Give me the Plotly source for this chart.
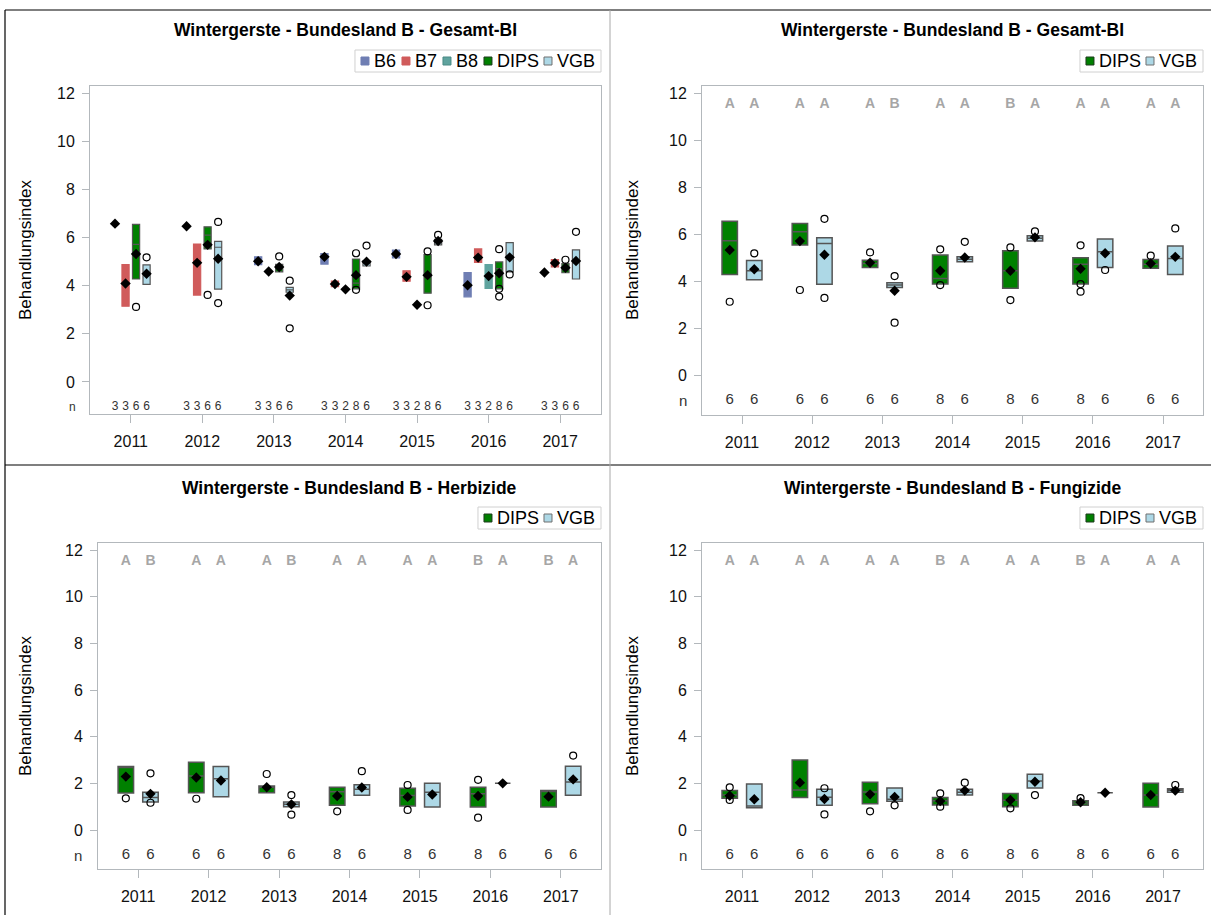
import plotly.graph_objects as go

W, H = 1211, 915

years = ['2011', '2012', '2013', '2014', '2015', '2016', '2017']

# Gesamt-BI, Betriebsgruppen (nur oben links); None = in dem Jahr nicht vorhanden
b6_q1 = [6.58, 6.47, 4.88, 4.90, 5.16, 3.54, 4.55]
b6_med = [6.58, 6.47, 5.00, 5.20, 5.32, 4.00, 4.55]
b6_q3 = [6.58, 6.47, 5.20, 5.34, 5.48, 4.55, 4.55]
b6_mean = [6.58, 6.47, 5.02, 5.20, 5.32, 4.02, 4.55]
b6_n = [3, 3, 3, 3, 3, 3, 3]

b7_q1 = [3.15, 3.61, 4.59, 3.96, 4.19, 4.97, 4.78]
b7_med = [4.10, 5.55, 4.59, 4.07, 4.37, 5.20, 4.94]
b7_q3 = [4.88, 5.73, 4.59, 4.19, 4.62, 5.53, 5.09]
b7_mean = [4.09, 4.95, 4.59, 4.07, 4.37, 5.17, 4.94]
b7_n = [3, 3, 3, 3, 3, 3, 3]

b8_q1 = [None, None, None, 3.85, 3.21, 3.89, None]
b8_med = [None, None, None, 3.85, 3.21, 4.40, None]
b8_q3 = [None, None, None, 3.85, 3.21, 4.88, None]
b8_mean = [None, None, None, 3.85, 3.21, 4.40, None]
b8_n = [None, None, None, 2, 2, 2, None]

# Gesamt-BI DIPS / VGB
ges_dips_q1 = [4.28, 5.53, 4.58, 3.87, 3.69, 3.87, 4.54]
ges_dips_med = [5.72, 6.10, 4.75, 4.11, 4.44, 4.71, 4.72]
ges_dips_q3 = [6.55, 6.45, 4.89, 5.11, 5.29, 4.99, 4.92]
ges_dips_mean = [5.32, 5.70, 4.78, 4.44, 4.44, 4.52, 4.75]
ges_dips_out = [[3.12], [3.62], [5.22], [5.35, 3.83], [5.43, 3.19], [5.52, 3.87, 3.55], [5.08]]
ges_dips_sig = ['A', 'A', 'A', 'A', 'B', 'A', 'A']

ges_vgb_q1 = [4.06, 3.86, 3.73, 4.82, 5.70, 4.58, 4.28]
ges_vgb_med = [4.44, 5.60, 3.83, 4.93, 5.82, 5.25, 4.96]
ges_vgb_q3 = [4.87, 5.84, 3.93, 5.03, 5.93, 5.79, 5.49]
ges_vgb_mean = [4.50, 5.12, 3.59, 5.00, 5.86, 5.18, 5.03]
ges_vgb_out = [[5.18], [6.65, 3.28], [4.21, 2.23], [5.67], [6.11], [4.47], [6.24]]
ges_vgb_sig = ['A', 'A', 'B', 'A', 'A', 'A', 'A']

dips_n = [6, 6, 6, 8, 8, 8, 6]
vgb_n = [6, 6, 6, 6, 6, 6, 6]

# Herbizide
her_dips_q1 = [1.59, 1.60, 1.60, 1.06, 1.03, 0.99, 0.99]
her_dips_med = [2.68, 2.32, 1.83, 1.64, 1.48, 1.55, 1.65]
her_dips_q3 = [2.72, 2.90, 1.89, 1.83, 1.79, 1.83, 1.69]
her_dips_mean = [2.29, 2.25, 1.83, 1.46, 1.42, 1.46, 1.43]
her_dips_out = [[1.36], [1.34], [2.40], [0.80], [1.93, 0.86], [2.15, 0.53], []]
her_dips_sig = ['A', 'A', 'A', 'A', 'A', 'B', 'B']

her_vgb_q1 = [1.20, 1.43, 1.00, 1.49, 0.99, 2.00, 1.49]
her_vgb_med = [1.39, 2.20, 1.10, 1.75, 1.62, 2.00, 2.06]
her_vgb_q3 = [1.62, 2.72, 1.20, 1.94, 2.00, 2.00, 2.73]
her_vgb_mean = [1.55, 2.12, 1.10, 1.82, 1.52, 2.00, 2.17]
her_vgb_out = [[2.43, 1.17], [], [1.50, 0.66], [2.52], [], [], [3.19]]
her_vgb_sig = ['B', 'A', 'B', 'A', 'A', 'A', 'A']

# Fungizide
fun_dips_q1 = [1.36, 1.39, 1.13, 1.07, 1.00, 1.06, 0.99]
fun_dips_med = [1.50, 1.72, 1.63, 1.25, 1.28, 1.16, 1.50]
fun_dips_q3 = [1.69, 3.00, 2.05, 1.39, 1.57, 1.26, 2.00]
fun_dips_mean = [1.47, 2.03, 1.53, 1.24, 1.29, 1.19, 1.50]
fun_dips_out = [[1.83, 1.29], [], [0.80], [1.57, 1.00], [0.93], [1.37], []]
fun_dips_sig = ['A', 'A', 'A', 'B', 'A', 'B', 'A']

fun_vgb_q1 = [0.96, 1.06, 1.23, 1.50, 1.80, 1.60, 1.62]
fun_vgb_med = [1.03, 1.40, 1.32, 1.62, 2.10, 1.60, 1.70]
fun_vgb_q3 = [1.97, 1.75, 1.80, 1.75, 2.39, 1.60, 1.77]
fun_vgb_mean = [1.32, 1.33, 1.42, 1.69, 2.07, 1.60, 1.69]
fun_vgb_out = [[], [1.79, 0.67], [1.06], [2.03], [1.50], [], [1.93]]
fun_vgb_sig = ['A', 'A', 'A', 'A', 'A', 'A', 'A']

FONT = 'Liberation Sans, Arial, sans-serif'
AX = '#B3B8BC'
C_B6, C_B7, C_B8 = '#6F7EB3', '#D05B5B', '#5FA39E'
C_DIPS, C_VGB = '#008000', '#ADD8E6'
EDGE = '#555555'

fig = go.Figure()


def px(x):
    return x / W


def py(y):
    return 1 - y / H


def positions(present, step):
    pos = [[None] * 7 for _ in present]
    for i in range(7):
        idx = [g for g, p in enumerate(present) if p[i]]
        m = len(idx)
        for k, g in enumerate(idx):
            pos[g][i] = i + (k - (m - 1) / 2) * step
    return pos


def add_group(xa, ya, pos, q1, med, q3, mean, n, fill, edge, lw, bw, msize,
              ny, nsize, outl=None, sig=None):
    keep = [i for i in range(7) if q1[i] is not None]
    xs = [pos[i] for i in keep]
    fig.add_trace(go.Box(
        x=xs, q1=[q1[i] for i in keep], median=[med[i] for i in keep],
        q3=[q3[i] for i in keep], lowerfence=[q1[i] for i in keep],
        upperfence=[q3[i] for i in keep], orientation='v', width=bw,
        fillcolor=fill, line=dict(color=edge, width=lw), whiskerwidth=0,
        boxpoints=False, showlegend=False, hoverinfo='skip', xaxis=xa, yaxis=ya))
    fig.add_trace(go.Scatter(
        x=xs, y=[mean[i] for i in keep], mode='markers',
        marker=dict(symbol='diamond', size=msize, color='black'),
        showlegend=False, hoverinfo='skip', xaxis=xa, yaxis=ya))
    if outl:
        ox = [pos[i] for i in keep for v in outl[i]]
        oy = [v for i in keep for v in outl[i]]
        fig.add_trace(go.Scatter(
            x=ox, y=oy, mode='markers',
            marker=dict(symbol='circle-open', size=7, color='black',
                        line=dict(width=1.2)),
            showlegend=False, hoverinfo='skip', xaxis=xa, yaxis=ya))
    fig.add_trace(go.Scatter(
        x=xs, y=[ny] * len(xs), mode='text', text=[str(n[i]) for i in keep],
        textfont=dict(size=nsize, color='#333333', family=FONT),
        showlegend=False, hoverinfo='skip', xaxis=xa, yaxis=ya))
    if sig:
        fig.add_trace(go.Scatter(
            x=xs, y=[11.5] * len(xs), mode='text', text=[sig[i] for i in keep],
            textfont=dict(size=14, color='#A6A6A6', family=FONT, weight='bold'),
            showlegend=False, hoverinfo='skip', xaxis=xa, yaxis=ya))


# ---- oben links: alle Gruppen ----
tl_groups = [
    (b6_q1, b6_med, b6_q3, b6_mean, b6_n, C_B6, C_B6, None),
    (b7_q1, b7_med, b7_q3, b7_mean, b7_n, C_B7, C_B7, None),
    (b8_q1, b8_med, b8_q3, b8_mean, b8_n, C_B8, C_B8, None),
    (ges_dips_q1, ges_dips_med, ges_dips_q3, ges_dips_mean, dips_n, C_DIPS, EDGE, ges_dips_out),
    (ges_vgb_q1, ges_vgb_med, ges_vgb_q3, ges_vgb_mean, vgb_n, C_VGB, EDGE, ges_vgb_out),
]
tl_pos = positions([[v is not None for v in g[0]] for g in tl_groups], 0.147)
for g, p in zip(tl_groups, tl_pos):
    add_group('x', 'y', p, g[0], g[1], g[2], g[3], g[4], g[5], g[6], 1.2, 0.1, 8,
              -1.04, 12, outl=g[7])

# ---- übrige Panels: DIPS vs VGB ----
pair_panels = [
    ('x2', 'y2', (ges_dips_q1, ges_dips_med, ges_dips_q3, ges_dips_mean, ges_dips_out, ges_dips_sig),
     (ges_vgb_q1, ges_vgb_med, ges_vgb_q3, ges_vgb_mean, ges_vgb_out, ges_vgb_sig)),
    ('x3', 'y3', (her_dips_q1, her_dips_med, her_dips_q3, her_dips_mean, her_dips_out, her_dips_sig),
     (her_vgb_q1, her_vgb_med, her_vgb_q3, her_vgb_mean, her_vgb_out, her_vgb_sig)),
    ('x4', 'y4', (fun_dips_q1, fun_dips_med, fun_dips_q3, fun_dips_mean, fun_dips_out, fun_dips_sig),
     (fun_vgb_q1, fun_vgb_med, fun_vgb_q3, fun_vgb_mean, fun_vgb_out, fun_vgb_sig)),
]
for xa, ya, d, v in pair_panels:
    pp = positions([[True] * 7, [True] * 7], 0.35)
    add_group(xa, ya, pp[0], d[0], d[1], d[2], d[3], dips_n, C_DIPS, EDGE, 1.5, 0.22, 8,
              -1.06, 15, outl=d[4], sig=d[5])
    add_group(xa, ya, pp[1], v[0], v[1], v[2], v[3], vgb_n, C_VGB, EDGE, 1.5, 0.22, 8,
              -1.06, 15, outl=v[4], sig=v[5])

# ---- Achsen ----
panels = [
    # xaxis, yaxis, left, right, top, bottom (px), y-range
    ('xaxis', 'yaxis', 'y', 'x', 90, 601, 86, 414, [-1.33, 12.3]),
    ('xaxis2', 'yaxis2', 'y2', 'x2', 702, 1203, 86, 415, [-1.70, 12.3]),
    ('xaxis3', 'yaxis3', 'y3', 'x3', 98, 601, 543, 869, [-1.67, 12.3]),
    ('xaxis4', 'yaxis4', 'y4', 'x4', 702, 1203, 543, 869, [-1.67, 12.3]),
]
for xk, yk, yid, xid, l, r, t, b, yr in panels:
    fig.layout[xk] = dict(
        domain=[px(l), px(r)], range=[-0.57, 6.57], anchor=yid,
        tickvals=list(range(7)), ticktext=years, showline=True, mirror=True,
        linecolor=AX, linewidth=1, ticks='outside', ticklen=8, tickcolor=AX,
        showgrid=False, zeroline=False, ticklabelstandoff=5,
        tickfont=dict(size=16, color='#111111', family=FONT))
    fig.layout[yk] = dict(
        domain=[py(b), py(t)], range=yr, anchor=xid,
        tickvals=[0, 2, 4, 6, 8, 10, 12], showline=True, mirror=True,
        linecolor=AX, linewidth=1, ticks='outside', ticklen=7, tickcolor=AX,
        showgrid=False, zeroline=False, ticklabelstandoff=4,
        tickfont=dict(size=16, color='#111111', family=FONT))

# ---- Texte ----
titles = [
    ('Wintergerste - Bundesland B - Gesamt-BI', 345, 30),
    ('Wintergerste - Bundesland B - Gesamt-BI', 952, 30),
    ('Wintergerste - Bundesland B - Herbizide', 349, 488),
    ('Wintergerste - Bundesland B - Fungizide', 952, 488),
]
for txt, x, y in titles:
    fig.add_annotation(text='<b>' + txt + '</b>', x=px(x), y=py(y), xref='paper', yref='paper',
                       xanchor='center', yanchor='middle', showarrow=False,
                       font=dict(size=17.5, color='black', family=FONT))

for x, y in [(25, 250), (632, 250), (25, 706), (632, 706)]:
    fig.add_annotation(text='Behandlungsindex', x=px(x), y=py(y), xref='paper', yref='paper',
                       xanchor='center', yanchor='middle', showarrow=False, textangle=-90,
                       font=dict(size=17, color='black', family=FONT))

for x, y, s in [(72, 407, 12), (683, 400, 15), (78, 855, 15), (683, 855, 15)]:
    fig.add_annotation(text='n', x=px(x), y=py(y), xref='paper', yref='paper',
                       xanchor='center', yanchor='middle', showarrow=False,
                       font=dict(size=s, color='#333333', family=FONT))

# ---- Legenden ----
cw = {'B': 0.722, '6': 0.556, '7': 0.556, '8': 0.556, 'D': 0.722, 'I': 0.278,
      'P': 0.667, 'S': 0.667, 'V': 0.667, 'G': 0.778}
shapes = []


def add_legend(items, right, cy, fs=18):
    sq, gap, sep, pad = 8, 4, 6, 6
    widths = [sum(cw[c] for c in name) * fs for name, _, _ in items]
    total = sum(sq + gap + w for w in widths) + sep * (len(items) - 1) + 2 * pad
    left = right - total
    shapes.append(dict(type='rect', xref='paper', yref='paper', x0=px(left), x1=px(right),
                       y0=py(cy + 11), y1=py(cy - 11), line=dict(color='#D0D0D0', width=1)))
    x = left + pad
    for (name, fill, edge), w in zip(items, widths):
        shapes.append(dict(type='rect', xref='paper', yref='paper', x0=px(x), x1=px(x + sq),
                           y0=py(cy + 4), y1=py(cy - 4), fillcolor=fill,
                           line=dict(color=edge, width=1)))
        fig.add_annotation(text=name, x=px(x + sq + gap - 1), y=py(cy), xref='paper', yref='paper',
                           xanchor='left', yanchor='middle', showarrow=False,
                           font=dict(size=fs, color='black', family=FONT))
        x += sq + gap + w + sep


add_legend([('B6', C_B6, C_B6), ('B7', C_B7, C_B7), ('B8', C_B8, '#4A8A85'),
            ('DIPS', C_DIPS, '#1E3A1E'), ('VGB', C_VGB, '#707070')], 601, 61)
for right, cy in [(1203, 61), (601, 518), (1203, 518)]:
    add_legend([('DIPS', C_DIPS, '#1E3A1E'), ('VGB', C_VGB, '#707070')], right, cy)

# Rahmen um die Grafikzellen
shapes += [
    dict(type='line', xref='paper', yref='paper', x0=px(5), x1=1, y0=py(10), y1=py(10),
         line=dict(color='black', width=1.2)),
    dict(type='line', xref='paper', yref='paper', x0=px(5), x1=px(5), y0=py(10), y1=0,
         line=dict(color='black', width=1.2)),
    dict(type='line', xref='paper', yref='paper', x0=px(5), x1=1, y0=py(465), y1=py(465),
         line=dict(color='black', width=1.2)),
    dict(type='line', xref='paper', yref='paper', x0=px(610), x1=px(610), y0=py(10), y1=0,
         line=dict(color='#A8A8A8', width=1)),
]

fig.update_layout(
    width=W, height=H, margin=dict(l=0, r=0, t=0, b=0),
    paper_bgcolor='white', plot_bgcolor='white', showlegend=False,
    font=dict(family=FONT), shapes=shapes)

fig.write_html("out.html", config={'displayModeBar': False},
               post_script="document.body.style.margin='0px';")
